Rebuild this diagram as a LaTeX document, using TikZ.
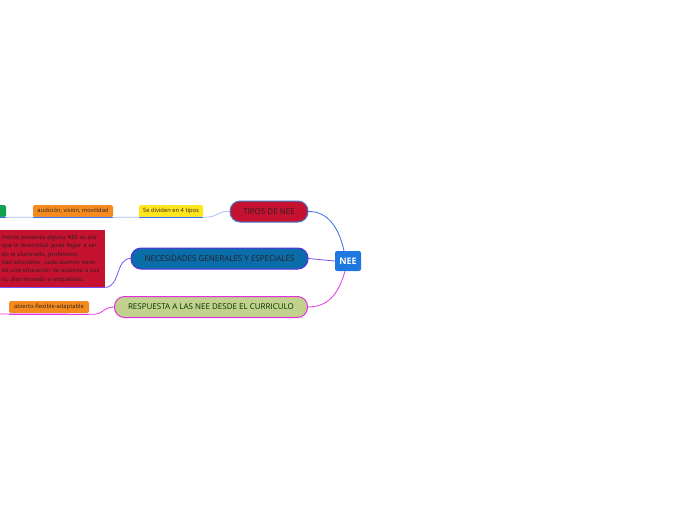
\documentclass[tikz,border=0pt]{standalone}
\usepackage{fontspec}
\setmainfont{Open Sans}
\definecolor{neeblue}{HTML}{1E78E0}
\definecolor{tipred}{HTML}{C41230}
\definecolor{tipborder}{HTML}{3F7FCF}
\definecolor{necfill}{HTML}{0A6DAA}
\definecolor{necborder}{HTML}{5A2EE0}
\definecolor{respfill}{HTML}{C2D18D}
\definecolor{respborder}{HTML}{E030E0}
\definecolor{yel}{HTML}{FFE61C}
\definecolor{ora}{HTML}{F58B1F}
\definecolor{grn}{HTML}{12A14C}
\definecolor{bluecon}{HTML}{3C6EE8}
\definecolor{lightbluecon}{HTML}{A9C3F2}
\definecolor{purpcon}{HTML}{7B52F0}
\definecolor{magcon}{HTML}{E535E5}
\definecolor{darktext}{HTML}{2A2020}
\begin{document}
\begin{tikzpicture}[x=1pt,y=-1pt,
  mainnode/.style={draw, line width=1pt, rounded corners=10pt, minimum height=21pt, inner sep=0pt, font=\fontsize{8}{9}\selectfont, text=darktext},
  subnode/.style={rounded corners=1.5pt, minimum height=12pt, inner sep=0pt, font=\fontsize{5.8}{6.5}\selectfont, text=darktext},
  conn/.style={line width=0.8pt},
]
\useasboundingbox (0,0) rectangle (696,520);
\clip (0,0) rectangle (696,520);
\fill[white] (0,0) rectangle (696,520);

% central
\node[fill=neeblue, rounded corners=2pt, minimum width=26pt, minimum height=20pt, inner sep=0pt, text=white, font=\fontsize{9}{10}\selectfont\bfseries] (nee) at (348,261) {NEE};

% main topics
\node[mainnode, fill=tipred, draw=tipborder, minimum width=78pt] (tipos) at (269,211.5) {TIPOS DE NEE};
\node[mainnode, fill=necfill, draw=necborder, minimum width=177pt] (nec) at (219.5,258.5) {NECESIDADES GENERALES Y ESPECIALES};
\node[mainnode, fill=respfill, draw=respborder, minimum width=193pt, text=black!80!green] (resp) at (211,307) {RESPUESTA A LAS NEE DESDE EL CURRICULO};

% sub topics
\node[subnode, fill=yel, minimum width=64pt] (sediv) at (171,211) {Se dividen en 4 tipos};
\node[subnode, fill=ora, minimum width=80pt] (aud) at (73,211) {audición, visión, movilidad};
\node[subnode, fill=grn, minimum width=16pt] (grnnode) at (-2,211) {};
\node[subnode, fill=ora, minimum width=80pt] (abierto) at (49,307) {abierto-flexible-adaptable};
\node[fill=tipred, anchor=north west, inner xsep=1.5pt, inner ysep=0pt, text width=102pt, minimum height=57pt, align=left, font=\fontsize{5.8}{8.4}\selectfont, text=darktext] (redblock) at (0,230) {mento presenta alguna NEE es por\\que la diversidad pude llegar a ser\\do el alumnado, profesores,\\dad educativa. cada alumno tiene\\de una educación de acuerdo a sus\\to, discriminado o etiquetado.};

% connectors to center
\draw[conn, bluecon] (tipos.east) .. controls (330,211) and (340,232) .. ([xshift=-4pt]nee.north);
\draw[conn, purpcon] (nec.east) -- (nee.west);
\draw[conn, magcon] (resp.east) .. controls (332,307) and (340,288) .. ([xshift=-3pt]nee.south);

% subtopic connectors
\draw[conn, lightbluecon] (grnnode.south west) -- (sediv.south east) .. controls (218,218) and (216,211) .. (tipos.west);
\draw[line width=1.3pt, bluecon] (grnnode.south west) -- (grnnode.south east);
\draw[line width=1.3pt, bluecon] (aud.south west) -- (aud.south east);
\draw[line width=1.3pt, bluecon] (sediv.south west) -- (sediv.south east);

\draw[line width=1.3pt, purpcon] (redblock.south west) -- (redblock.south east);
\draw[conn, purpcon] (redblock.south east) .. controls (120,287) and (116,258) .. (nec.west);

\coordinate (ableft) at (0,314);
\draw[conn, magcon] (ableft) -- ([xshift=6pt,yshift=-1pt]abierto.south east) .. controls (104,313) and (104,307) .. (resp.west);
\draw[line width=1.3pt, magcon] ([yshift=-1pt]abierto.south west) -- ([yshift=-1pt]abierto.south east);
\end{tikzpicture}
\end{document}
